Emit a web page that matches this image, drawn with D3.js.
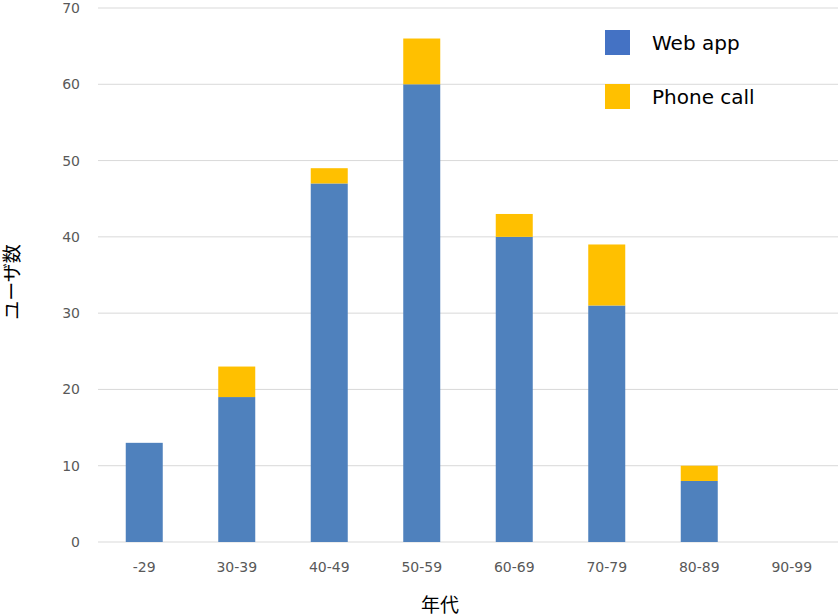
<!DOCTYPE html>
<html><head><meta charset="utf-8">
<script src="https://cdn.jsdelivr.net/npm/d3@7"></script>
<style>body{margin:0;background:#fff}text{font-family:"DejaVu Sans","Noto Sans CJK JP",sans-serif}</style>
</head><body>
<svg id="chart" width="839" height="616"></svg>
<script>
var categories = ["-29", "30-39", "40-49", "50-59", "60-69", "70-79", "80-89", "90-99"];
var webApp = [13, 19, 47, 60, 40, 31, 8, 0];
var phoneCall = [0, 4, 2, 6, 3, 8, 2, 0];
var yTicks = [0, 10, 20, 30, 40, 50, 60, 70];

const plotL = 98, plotR = 838, plotT = 8, plotB = 542;
var svg = d3.select("#chart");

var x = d3.scaleBand().domain(categories).range([plotL, plotR]).paddingInner(0.6).paddingOuter(0.3);
var y = d3.scaleLinear().domain([0, 70]).range([plotB, plotT]);

// gridlines
svg.append("g").selectAll("line").data(yTicks).enter().append("line")
    .attr("x1", plotL).attr("x2", plotR)
    .attr("y1", function(d) {return y(d);}).attr("y2", function(d) {return y(d);})
    .style("stroke", "#d9d9d9");

var yAxis = svg.append("g").attr("transform", "translate(" + plotL + ",0)")
    .call(d3.axisLeft(y).tickValues(yTicks).tickSize(0).tickPadding(18));
yAxis.select(".domain").remove();
yAxis.selectAll("text").style("font-size", "14px").style("fill", "#595959");

var xAxis = svg.append("g").attr("transform", "translate(0," + plotB + ")")
    .call(d3.axisBottom(x).tickSize(0).tickPadding(20));
xAxis.select(".domain").remove();
xAxis.selectAll("text").style("font-size", "14px").style("fill", "#595959");

svg.append("g").selectAll("rect").data(categories).enter().append("rect")
    .attr("x", function(d) {return x(d);})
    .attr("width", x.bandwidth())
    .attr("y", function(d, i) {return y(webApp[i]);})
    .attr("height", function(d, i) {return plotB - y(webApp[i]);})
    .style("fill", "#4F81BD");

svg.append("g").selectAll("rect").data(categories).enter().append("rect")
    .attr("x", function(d) {return x(d);})
    .attr("width", x.bandwidth())
    .attr("y", function(d, i) {return y(webApp[i] + phoneCall[i]);})
    .attr("height", function(d, i) {return y(webApp[i]) - y(webApp[i] + phoneCall[i]);})
    .style("fill", "#FFC000");

// legend
var legend = [["Web app", "#4472C4", 30], ["Phone call", "#FFC000", 84]];
legend.forEach(function(l) {
    svg.append("rect").attr("x", 605).attr("y", l[2]).attr("width", 25).attr("height", 25).style("fill", l[1]);
    svg.append("text").attr("x", 652).attr("y", l[2] + 20).text(l[0])
        .style("font-size", "20px").style("fill", "#000");
});

svg.append("text").attr("transform", "translate(19,282) rotate(-90)")
    .attr("text-anchor", "middle").text("ユーザ数").style("font-size", "19px");
svg.append("text").attr("x", 440).attr("y", 612)
    .attr("text-anchor", "middle").text("年代").style("font-size", "19px");
</script>
</body></html>
